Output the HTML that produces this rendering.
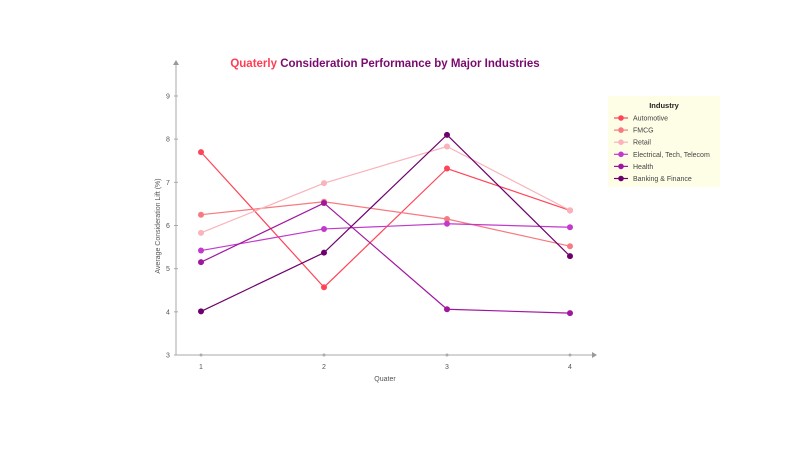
<!DOCTYPE html>
<html><head><meta charset="utf-8"><style>
body{margin:0;background:#fff;width:800px;height:450px;overflow:hidden;font-family:"Liberation Sans",sans-serif}
</style></head><body>
<svg id="c" width="800" height="450" xmlns="http://www.w3.org/2000/svg">
<text x="385" y="67" text-anchor="middle" font-size="11.5" font-weight="bold"><tspan fill="#ff3d55">Quaterly</tspan><tspan fill="#7a0a6e"> Consideration Performance by Major Industries</tspan></text>
<g id="axes"></g><g id="series"></g>
<g>
<rect x="608" y="96" width="112" height="91" fill="#fefde6"/>
<text x="664" y="108" text-anchor="middle" font-size="7.5" font-weight="bold" fill="#222">Industry</text>
<g id="leg"></g></g>
</svg>
<script>
const categories=[1,2,3,4];
const seriesNames=["Automotive","FMCG","Retail","Electrical, Tech, Telecom","Health","Banking & Finance"];
const colors=["#ff4458","#f77a80","#f9b3bb","#c23acb","#a0179f","#6e006c"];
const automotive=[7.7,4.57,7.32,6.35];
const fmcg=[6.25,6.55,6.15,5.52];
const retail=[5.83,6.98,7.83,6.35];
const electrical=[5.42,5.92,6.04,5.96];
const health=[5.15,6.52,4.06,3.97];
const banking=[4.01,5.37,8.10,5.29];
const yTicks=[3,4,5,6,7,8,9];
const allSeries=[automotive,fmcg,retail,electrical,health,banking];
const ns="http://www.w3.org/2000/svg";
const x=q=>201+(q-1)*123;
const y=v=>355-(v-3)*43.17;
function mk(t,a,p){const e=document.createElementNS(ns,t);for(const k in a)e.setAttribute(k,a[k]);p.appendChild(e);return e;}
const ax=document.getElementById('axes');
let l=mk('line',{x1:176,y1:355,x2:595,y2:355,stroke:'#aaa','stroke-width':1},ax);


l=mk('line',{x1:176,y1:355,x2:176,y2:62,stroke:'#aaa','stroke-width':1},ax);


mk('path',{d:'M597 355 L592 352 L592 358Z',fill:'#999'},ax);
mk('path',{d:'M176 60 L173 65 L179 65Z',fill:'#999'},ax);
yTicks.forEach(v=>{const t=mk('text',{x:168,y:y(v)+2.5,'text-anchor':'middle','font-size':7,fill:'#555'},ax);t.textContent=v;


mk('line',{x1:174,x2:178,y1:y(v),y2:y(v),stroke:'#aaa'},ax);});
categories.forEach(q=>{const t=mk('text',{x:x(q),y:369,'text-anchor':'middle','font-size':7,fill:'#555'},ax);t.textContent=q;


mk('circle',{cx:x(q),cy:355,r:1.5,fill:'#aaa'},ax);});
let t=mk('text',{x:385,y:381,'text-anchor':'middle','font-size':7,fill:'#555'},ax);t.textContent='Quater';


t=mk('text',{x:160,y:226,'text-anchor':'middle','font-size':7,fill:'#555',transform:'rotate(-90 160 226)'},ax);t.textContent='Average Consideration Lift (%)';


const sg=document.getElementById('series'),lg=document.getElementById('leg');
allSeries.forEach((s,i)=>{
 const g=mk('g',{},sg);
 
 
 mk('polyline',{points:s.map((v,j)=>x(categories[j])+','+y(v)).join(' '),fill:'none',stroke:colors[i],'stroke-width':1.2},g);
 s.forEach((v,j)=>{const c=mk('circle',{cx:x(categories[j]),cy:y(v),r:3,fill:colors[i]},g);
 
 });
 const ly=118+i*12.1;
 const e=mk('g',{},lg);
 
 
 mk('line',{x1:614,x2:628,y1:ly,y2:ly,stroke:colors[i],'stroke-width':1.2},e);
 mk('circle',{cx:621,cy:ly,r:2.8,fill:colors[i]},e);
 const tt=mk('text',{x:633,y:ly+2.5,'font-size':7,fill:'#444'},e);tt.textContent=seriesNames[i];
});
</script>
</body></html>
